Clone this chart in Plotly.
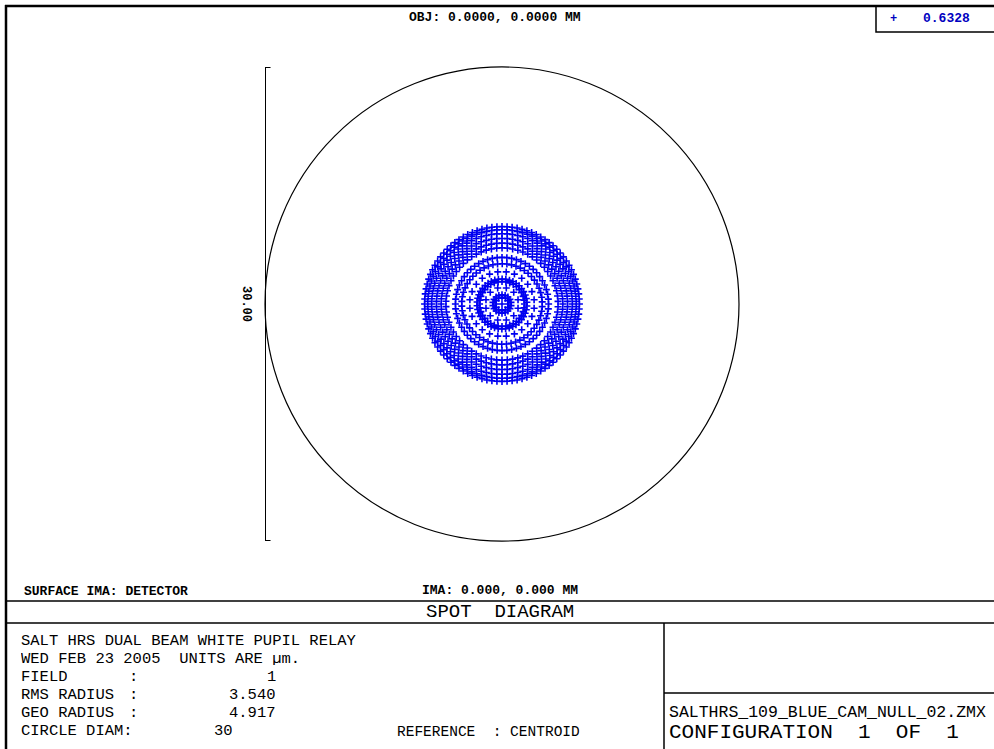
import numpy as np
import plotly.graph_objects as go

W, H = 994, 749

# ---- spot data (image plane, micrometres) ----
# each ring of traced rays: radius, number of rays, starting angle
ring_radius_um = [0.0, 0.42, 0.58, 1.05, 1.42, 1.58, 2.05, 2.55, 2.95, 3.55, 3.85, 4.15, 4.45, 4.7, 4.9]
ring_ray_count = [1, 12, 18, 12, 36, 42, 24, 54, 60, 66, 72, 78, 84, 90, 96]
ring_phase_deg = [0, 0, 10, 15, 0, 4, 7.5, 3, 0, 2.7, 0, 2.3, 0, 2, 0]

wavelength_label = "0.6328"
circle_diam_um = 30
scale_label = "30.00"

header_text = "OBJ: 0.0000, 0.0000 MM"
ima_text = "IMA: 0.000, 0.000 MM"
surface_text = "SURFACE IMA: DETECTOR"
title_text = "SPOT  DIAGRAM"
info_labels = ["FIELD", "RMS RADIUS", "GEO RADIUS", "CIRCLE DIAM"]
info_values = ["1", "3.540", "4.917", "30"]
system_title = "SALT HRS DUAL BEAM WHITE PUPIL RELAY"
date_line = "WED FEB 23 2005  UNITS ARE µm."
reference_text = "REFERENCE  : CENTROID"
file_name = "SALTHRS_109_BLUE_CAM_NULL_02.ZMX"
config_text = "CONFIGURATION  1  OF  1"

r_all, th_all = [], []
for r, n, ph in zip(ring_radius_um, ring_ray_count, ring_phase_deg):
    th = ph + np.arange(n) * 360.0 / n
    r_all += [r] * n
    th_all += list(th)


def px(x):
    return x / W


def py(y):
    return 1 - y / H


# plot area: square region holding the reference circle
cx0, cx1 = 265, 739
cy0, cy1 = 67, 541
half = circle_diam_um / 2

fig = go.Figure()
fig.add_trace(go.Scatterpolar(
    r=r_all, theta=th_all, mode="markers",
    marker=dict(symbol="cross-thin", size=5, line=dict(color="#0000F0", width=1.6), color="#0000F0"),
    showlegend=False, hoverinfo="skip",
))
# invisible trace to anchor the cartesian overlay
fig.add_trace(go.Scatter(x=[-half, half], y=[-half, half], mode="markers",
                         marker=dict(opacity=0), showlegend=False, hoverinfo="skip"))

mono = "Liberation Mono"
shapes = []
ann = []

# scale bar for the circle diameter
cap = 0.35
bar = dict(color="black", width=2)
shapes += [
    dict(type="line", xref="x", yref="y", x0=-half, x1=-half, y0=-half, y1=half, line=bar),
    dict(type="line", xref="x", yref="y", x0=-half - cap, x1=-half + cap, y0=half, y1=half, line=bar),
    dict(type="line", xref="x", yref="y", x0=-half - cap, x1=-half + cap, y0=-half, y1=-half, line=bar),
]


def hline(y, x0=5, x1=W, w=1.5):
    shapes.append(dict(type="line", xref="paper", yref="paper", x0=px(x0), x1=px(x1), y0=py(y), y1=py(y),
                       line=dict(color="black", width=w)))


def vline(x, y0, y1, w=1.5):
    shapes.append(dict(type="line", xref="paper", yref="paper", x0=px(x), x1=px(x), y0=py(y0), y1=py(y1),
                       line=dict(color="black", width=w)))


def text(x, y, s, size=16, anchor="left", color="black", bold=False, angle=0, box_h=None):
    a = dict(x=px(x), y=py(y), xref="paper", yref="paper", text=f"<b>{s}</b>" if bold else s,
             showarrow=False, xanchor=anchor, yanchor="middle", textangle=angle,
             font=dict(family=mono, size=size, color=color))
    if box_h:
        a["height"] = box_h
        a["borderpad"] = 0
    ann.append(a)


# scale bar label
text(246, 304, scale_label, size=12, anchor="center", bold=True, angle=90)

# frame
hline(6, 5, W, 2.5)
vline(6, 5, H, 2.5)
hline(601)
hline(623)
vline(664, 623, H)
hline(693, 664, W)

# wavelength key
shapes.append(dict(type="rect", xref="paper", yref="paper", x0=px(876), x1=px(W + 5), y0=py(32), y1=py(6),
                   line=dict(color="black", width=1.5)))
text(893, 19, "+", size=12, anchor="center", color="#0000C0", bold=True)
text(946, 19, wavelength_label, size=13, anchor="center", color="#0000C0", bold=True)

# headers
text(495, 17, header_text, size=13, anchor="center", bold=True)
text(500, 590, ima_text, size=13, anchor="center", bold=True)
text(22, 591, surface_text, size=13, bold=True)
text(500, 612, title_text, size=19, anchor="center")

# info block
fs = 15.5
bh = 13
text(20, 640, system_title, size=fs, box_h=bh)
text(20, 658, date_line, size=fs, box_h=bh)
rows_y = [676, 694, 712, 730]
for lab, val, y in zip(info_labels, info_values, rows_y):
    if lab == "CIRCLE DIAM":
        text(20, y, lab + ":", size=fs, box_h=bh)
        text(234, y, val, size=fs, anchor="right", box_h=bh)
    else:
        text(20, y, lab, size=fs, box_h=bh)
        text(128, y, ":", size=fs, box_h=bh)
        text(277, y, val, size=fs, anchor="right", box_h=bh)
text(396, 731, reference_text, size=14.5, box_h=bh)
text(668, 712, file_name, size=fs + 1, box_h=bh)
text(668, 732, config_text, size=21, box_h=17)

fig.update_layout(
    width=W, height=H,
    margin=dict(l=0, r=0, t=0, b=0),
    paper_bgcolor="white", plot_bgcolor="rgba(0,0,0,0)",
    polar=dict(
        domain=dict(x=[px(cx0), px(cx1)], y=[py(cy1), py(cy0)]),
        bgcolor="rgba(0,0,0,0)",
        radialaxis=dict(range=[0, half], visible=False, showgrid=False),
        angularaxis=dict(showgrid=False, showticklabels=False, ticks="", showline=True,
                         linecolor="black", linewidth=1.2),
    ),
    xaxis=dict(domain=[px(cx0), px(cx1)], range=[-half, half], visible=False, fixedrange=True),
    yaxis=dict(domain=[py(cy1), py(cy0)], range=[-half, half], visible=False, fixedrange=True),
    shapes=shapes,
    annotations=ann,
)

fig.write_html("out.html")
